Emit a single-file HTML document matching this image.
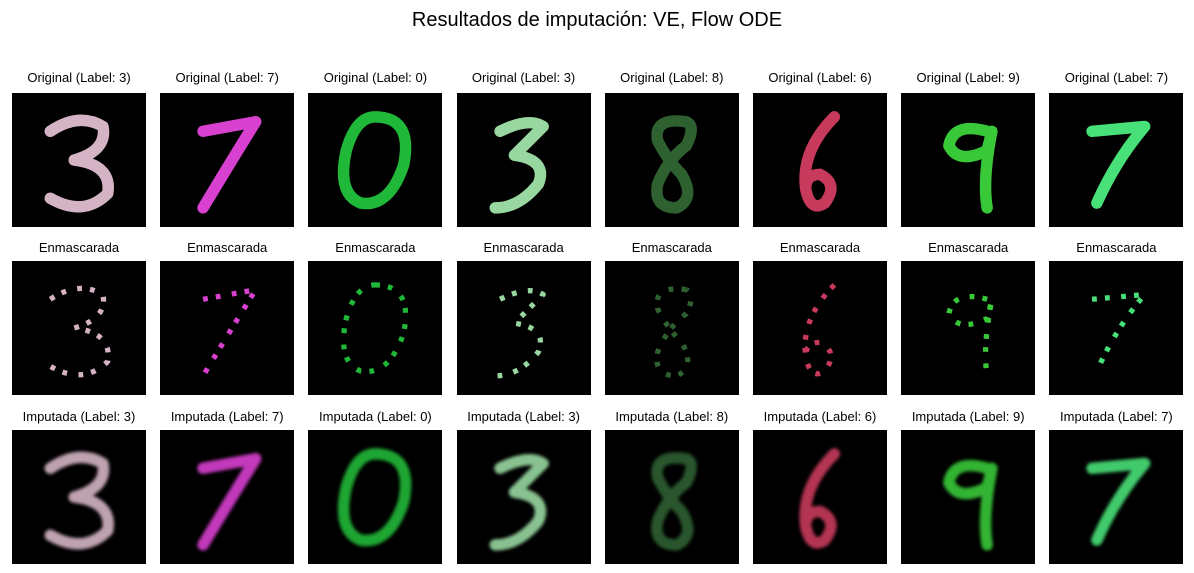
<!DOCTYPE html>
<html><head><meta charset="utf-8">
<style>
body{margin:0;background:#fff;width:1194px;height:573px;overflow:hidden;font-family:"Liberation Sans","DejaVu Sans",sans-serif;position:relative}
.t{position:absolute;font-size:13px;color:#000;text-align:center;width:160px;white-space:nowrap}
svg.p{position:absolute;width:134px;height:134px;background:#000}
#title{position:absolute;left:0;width:1194px;top:9px;text-align:center;font-size:20px}
</style></head><body>
<div id="title">Resultados de imputación: VE, Flow ODE</div>
<script>
const labels=[3,7,0,3,8,6,9,7];
const colors=["#d4b4c4","#d840d0","#20b838","#98d8a0","#2e6030","#c83a5c","#38c838","#48e078"];
const paths={
3:"M8 8 Q14 4 19 7 Q20 12 13 14 Q21 15 20 21 Q15 26 8 22",
7:"M9 8 L20 6 Q15 14 9 24",
0:"M14 5 Q22 5 20 15 Q17 24 11 23 Q6 21 8 12 Q10 5 14 5",
8:"M17 6 Q10 5 11 10 Q13 14 16 17 Q19 22 15 24 Q10 24 11 19 Q13 14 17 11 Q19 7 17 6",
6:"M17 5 Q10 12 11 20 Q12 25 15 23 Q18 19 14 17 Q11 17 11 20",
9:"M18 8 Q11 6 10 11 Q12 15 18 12 L19 8 Q17 18 18 24"
};
const alt3="M9 8 Q15 5 18 7 Q15 10 12 13 Q19 14 17 19 Q13 24 8 24";
const alt7="M9 8 L20 7 Q14 14 10 23";
const rowY=[93,261,430], titleY=[70,240,409];
const rowTitles=[l=>"Original (Label: "+l+")",l=>"Enmascarada",l=>"Imputada (Label: "+l+")"];
const NS="http://www.w3.org/2000/svg";
labels.forEach((lab,i)=>{
  const x=12+i*148.2;
  for(let r=0;r<3;r++){
    const t=document.createElement('div');
    t.className='t';t.style.left=(x+67-80)+'px';t.style.top=titleY[r]+'px';
    t.textContent=rowTitles[r](lab);
    
    
    document.body.appendChild(t);
    const s=document.createElementNS(NS,'svg');
    s.setAttribute('class','p');s.setAttribute('viewBox','0 0 28 28');
    s.style.left=x+'px';s.style.top=rowY[r]+'px';
    
    
    if(r===2){
      s.innerHTML='<defs><filter id="bl'+i+'" filterUnits="userSpaceOnUse" x="0" y="0" width="28" height="28"><feGaussianBlur stdDeviation="0.35"/></filter></defs>';
    }
    const p=document.createElementNS(NS,'path');
    let d=paths[lab];
    if(i===3)d=alt3; if(i===7)d=alt7;
    p.setAttribute('d',d);p.setAttribute('fill','none');p.setAttribute('stroke',colors[i]);
    p.setAttribute('stroke-linecap','round');p.setAttribute('stroke-linejoin','round');
    if(r===0){p.setAttribute('stroke-width','2.4');}
    if(r===1){p.setAttribute('stroke-width','1.1');p.setAttribute('stroke-linecap','butt');p.setAttribute('stroke-dasharray','1 1.7 1 2.4');}
    if(r===2){p.setAttribute('stroke-width','2.4');p.setAttribute('filter','url(#bl'+i+')');p.setAttribute('opacity','0.9');}
    s.appendChild(p);
    document.body.appendChild(s);
  }
});
</script>
</body></html>
